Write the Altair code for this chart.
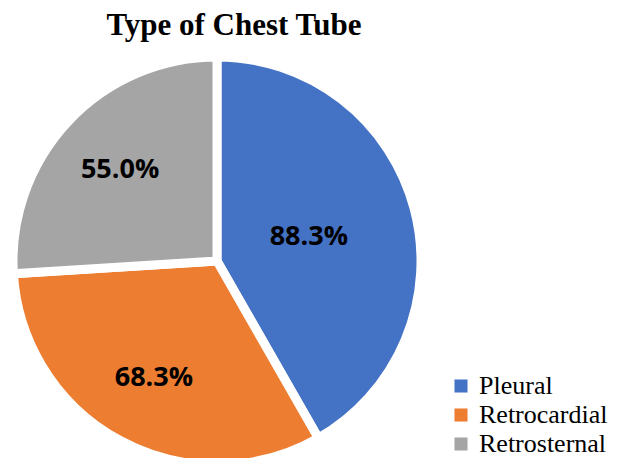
import altair as alt
import pandas as pd

categories = ["Pleural", "Retrocardial", "Retrosternal"]
values = [88.3, 68.3, 55.0]
labels = ["88.3%", "68.3%", "55.0%"]
colors = ["#4472C4", "#ED7D31", "#A5A5A5"]

df = pd.DataFrame({"category": categories, "value": values, "label": labels,
                   "order": list(range(len(categories)))})

cx, cy = 209, 253

base = alt.Chart(df).transform_joinaggregate(
    total="sum(value)"
).transform_window(
    cum="sum(value)", sort=[alt.SortField("order")], frame=[None, 0]
).transform_calculate(
    a0="(datum.cum - datum.value) / datum.total * 2 * PI",
    a1="datum.cum / datum.total * 2 * PI",
    mid="(datum.cum - datum.value / 2) / datum.total * 2 * PI",
    r="datum.category == 'Pleural' ? 95 : 133",
)

arcs = base.mark_arc(outerRadius=204, stroke="white", strokeWidth=9).encode(
    x=alt.value(cx), y=alt.value(cy),
    theta=alt.Theta("a0:Q", scale=None),
    theta2="a1:Q",
    color=alt.Color("category:N", sort=categories,
                    scale=alt.Scale(domain=categories, range=colors),
                    legend=alt.Legend(title=None, orient="none", legendX=440, legendY=365,
                                      symbolType="square", symbolSize=170,
                                      rowPadding=3, labelOffset=5,
                                      symbolStrokeWidth=0, labelLimit=300,
                                      labelFont="Liberation Serif", labelFontSize=26,
                                      labelColor="black")),
)

texts = base.mark_text(font="Open Sans", fontWeight="bold", fontSize=27, color="black").encode(
    x=alt.value(cx), y=alt.value(cy),
    theta=alt.Theta("mid:Q", scale=None),
    radius=alt.Radius("r:Q", scale=None),
    text="label:N",
)

title = alt.Chart(pd.DataFrame({"t": ["Type of Chest Tube"]})).mark_text(
    font="Liberation Serif", fontWeight="bold", fontSize=31, color="black", baseline="alphabetic"
).encode(x=alt.value(226), y=alt.value(27), text="t:N")

chart = alt.layer(arcs, texts, title).properties(
    width=607, height=450, padding=0, autosize=alt.AutoSizeParams(type="none"),
    background="white"
).configure_view(strokeWidth=0)

chart.save("out.html", embed_options={"renderer": "svg", "actions": False})
